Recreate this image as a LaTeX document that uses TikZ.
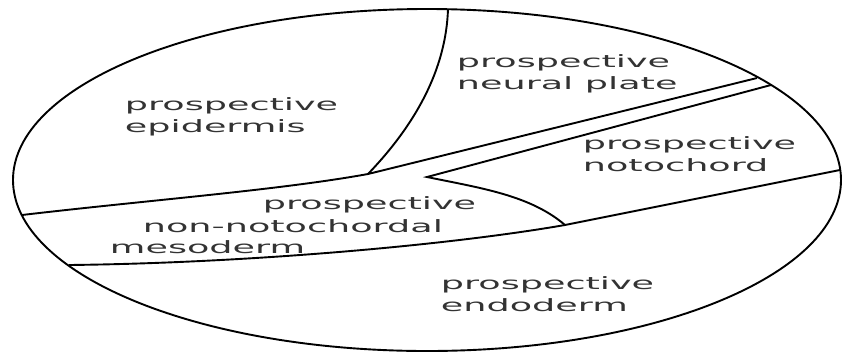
\documentclass[tikz,border=0pt]{standalone}
\usepackage{fontspec}
\newfontfamily\regionfont[FakeStretch=2.15]{DejaVu Sans}

\begin{document}
\begin{tikzpicture}[x=1pt,y=-1pt,line width=1.9pt,
  every node/.style={font=\regionfont\fontsize{17}{21.5}\selectfont,text=black!80,inner sep=0pt,anchor=west,align=left}]
\useasboundingbox (0,0) rectangle (843,354);
\draw (427,180) ellipse [x radius=414,y radius=171];
% points where the boundaries meet
\coordinate (epiTop) at (448,9);
\coordinate (epiFoot) at (368,174);
\coordinate (leftUp) at (22,215);
\coordinate (leftLow) at (69,265);
\coordinate (rimA) at (757,78);
\coordinate (rimB) at (771,85);
\coordinate (rimC) at (840,170);
\coordinate (tip) at (427,177);
\coordinate (notoFoot) at (565,225);
% boundaries
\draw (epiTop) .. controls (446,70) and (415,125) .. (epiFoot);
\draw (leftUp) .. controls (150,200) and (280,190) .. (epiFoot) -- (rimA);
\draw (rimB) -- (tip) .. controls (480,188) and (530,195) .. (notoFoot);
\draw (leftLow) .. controls (250,263) and (450,245) .. (notoFoot) -- (rimC);
% labels
\node (epi) at (124,117) {prospective\\epidermis};
\node (neural) at (456,74) {prospective\\neural plate};
\node (noto) at (582,154) {prospective\\notochord};
\node (mesoA) at (262,205) {prospective};
\node (mesoB) at (142,226) {non-notochordal};
\node (mesoC) at (109,247) {mesoderm};
\node (endo) at (440,294) {prospective\\endoderm};
\end{tikzpicture}
\end{document}
